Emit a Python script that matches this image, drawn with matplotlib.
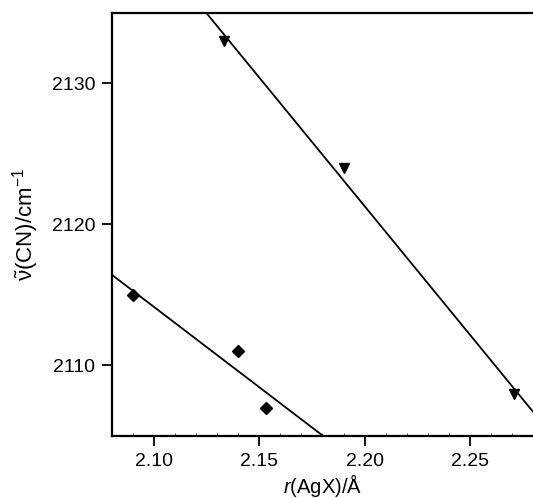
import numpy as np
import matplotlib.pyplot as plt
from matplotlib.ticker import MultipleLocator

# data
r_tri = [2.133, 2.190, 2.271]
nu_tri = [2133.0, 2124.0, 2108.0]
r_dia = [2.090, 2.140, 2.153]
nu_dia = [2115.0, 2111.0, 2107.0]

plt.rcParams['font.family'] = ['Liberation Sans', 'DejaVu Sans']
plt.rcParams['mathtext.fontset'] = 'custom'
plt.rcParams['mathtext.rm'] = 'Liberation Sans'
plt.rcParams['mathtext.it'] = 'Liberation Sans:italic'

fig = plt.figure(figsize=(5.33, 4.98), dpi=100)
ax = fig.add_axes([0.210, 0.1245, 0.79, 0.8495])

xlim = (2.08, 2.28)
xs = np.array(xlim)

# linear fits
for r, nu, mk, ms in [(r_tri, nu_tri, 'v', 7.5), (r_dia, nu_dia, 'D', 6.5)]:
    p = np.polyfit(r, nu, 1)
    ax.plot(xs, np.polyval(p, xs), color='black', lw=1.3)
    ax.plot(r, nu, linestyle='none', marker=mk, ms=ms, color='black')

ax.set_xlim(*xlim)
ax.set_ylim(2105, 2135)
ax.set_xticks([2.10, 2.15, 2.20, 2.25])
ax.set_xticklabels(['2.10', '2.15', '2.20', '2.25'])
ax.set_yticks([2110, 2120, 2130])
ax.xaxis.set_minor_locator(MultipleLocator(0.01))

ax.spines['right'].set_visible(False)
for s in ['left', 'top', 'bottom']:
    ax.spines[s].set_linewidth(1.6)

ax.tick_params(axis='both', which='major', direction='out', length=7, width=1.3,
               labelsize=14, pad=5)
ax.tick_params(axis='x', which='minor', direction='in', length=2, width=0.5)

ax.set_xlabel(r'$\mathit{r}$(AgX)/Å', fontsize=14.5, labelpad=2)
ax.set_ylabel(r'$\tilde{\mathrm{\nu}}$(CN)/cm$^{-1}$', fontsize=16, labelpad=8)

fig.savefig('out.png', dpi=100)
